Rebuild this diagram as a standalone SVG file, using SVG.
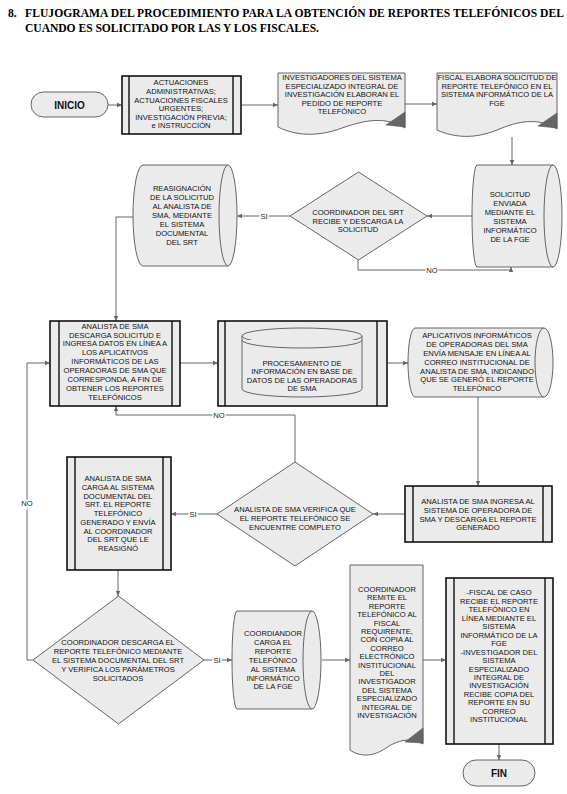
<svg xmlns="http://www.w3.org/2000/svg" width="567" height="794" viewBox="0 0 567 794">
<defs>
<style>
.t{font-family:"Liberation Sans",Arial,sans-serif;font-size:7.6px;fill:#111;text-anchor:middle}
.ttl{font-family:"Liberation Serif","Times New Roman",serif;font-size:11.6px;font-weight:bold;fill:#000}
.box{fill:#ebebeb;stroke:#111;stroke-width:1.6}
.inner{stroke:#111;stroke-width:1.4;fill:none}
.shp{fill:#ebebeb;stroke:#555;stroke-width:0.9}
.ln{fill:none;stroke:#666;stroke-width:1}
.lbl{font-family:"Liberation Sans",Arial,sans-serif;font-size:7.6px;fill:#222;text-anchor:middle;stroke:#fff;stroke-width:3;paint-order:stroke}
.tri{fill:#666;stroke:#555;stroke-width:0.6}
.term{font-family:"Liberation Sans",Arial,sans-serif;font-size:10px;font-weight:bold;fill:#111;text-anchor:middle}
</style>
<marker id="ah" markerWidth="6" markerHeight="6" refX="5" refY="3" orient="auto" markerUnits="userSpaceOnUse">
<path d="M0,0.8 L5,3 L0,5.2 Z" fill="#666"/>
</marker>
</defs>
<rect width="567" height="794" fill="#fff"/>
<g id="title">
<text class="ttl" x="8" y="16.7">8.</text>
<text class="ttl" x="25" y="16.7" textLength="539" lengthAdjust="spacing">FLUJOGRAMA DEL PROCEDIMIENTO PARA LA OBTENCIÓN DE REPORTES TELEFÓNICOS DEL</text>
<text class="ttl" x="25" y="31.5" textLength="294" lengthAdjust="spacing">CUANDO ES SOLICITADO POR LAS Y LOS FISCALES.</text>
</g>

<g id="connectors">
<path class="ln" marker-end="url(#ah)" d="M108,105 H122"/>
<path class="ln" marker-end="url(#ah)" d="M241,105 H278"/>
<path class="ln" marker-end="url(#ah)" d="M405,104 H437"/>
<path class="ln" marker-end="url(#ah)" d="M512,137 V165"/>
<path class="ln" marker-end="url(#ah)" d="M472,216 H427"/>
<path class="ln" marker-end="url(#ah)" d="M290,216 H237"/>
<path class="ln" marker-end="url(#ah)" d="M358,260 V270 H511 V267"/>
<path class="ln" marker-end="url(#ah)" d="M133,217 H116 V321"/>
<path class="ln" marker-end="url(#ah)" d="M180,363 H218"/>
<path class="ln" marker-end="url(#ah)" d="M387,363 H408"/>
<path class="ln" marker-end="url(#ah)" d="M478,397 V486"/>
<path class="ln" marker-end="url(#ah)" d="M405,514 H373"/>
<path class="ln" marker-end="url(#ah)" d="M217,514 H171"/>
<path class="ln" marker-end="url(#ah)" d="M295,462 V415 H116 V406"/>
<path class="ln" marker-end="url(#ah)" d="M118,570 V596"/>
<path class="ln" marker-end="url(#ah)" d="M33,660 H27 V363 H50"/>
<path class="ln" marker-end="url(#ah)" d="M204,660 H232"/>
<path class="ln" marker-end="url(#ah)" d="M322,660 H350"/>
<path class="ln" marker-end="url(#ah)" d="M423,660 H446"/>
<path class="ln" marker-end="url(#ah)" d="M499,744 V760"/>
<text class="lbl" x="264" y="218.7">SI</text>
<text class="lbl" x="432" y="272.7">NO</text>
<text class="lbl" x="219" y="417.7">NO</text>
<text class="lbl" x="193" y="516.7">SI</text>
<text class="lbl" x="27" y="505.7">NO</text>
<text class="lbl" x="217" y="662.7">SI</text>
</g>

<g id="inicio">
<rect x="31" y="92" width="77" height="25" rx="12.5" class="shp"/>
<text class="term" x="69.5" y="108.5">INICIO</text>
</g>

<g id="actuaciones">
<rect x="122" y="76" width="119" height="58" class="box"/>
<path class="inner" d="M129,76 V134 M233,76 V134"/>
<text class="t"><tspan x="181" y="85.4">ACTUACIONES</tspan><tspan x="181" y="94">ADMINISTRATIVAS;</tspan><tspan x="181" y="102.6">ACTUACIONES FISCALES</tspan><tspan x="181" y="111.2">URGENTES;</tspan><tspan x="181" y="119.8">INVESTIGACIÓN PREVIA;</tspan><tspan x="181" y="128.4">e INSTRUCCIÓN</tspan></text>
</g>

<g id="investigadores">
<path class="shp" d="M278,73 H405 V128 C385,116 365,120 342,128 C318,137 296,136 278,127 Z"/>
<path class="tri" d="M405,112 L405,127 L386,125 Z"/>
<text class="t"><tspan x="342" y="80">INVESTIGADORES DEL SISTEMA</tspan><tspan x="342" y="88.5">ESPECIALIZADO INTEGRAL DE</tspan><tspan x="342" y="97">INVESTIGACIÓN ELABORAN EL</tspan><tspan x="342" y="105.5">PEDIDO DE REPORTE</tspan><tspan x="342" y="114">TELEFÓNICO</tspan></text>
</g>

<g id="fiscal-elabora">
<path class="shp" d="M437,73 H557 V129 C538,117 518,121 497,130 C475,139 455,138 437,130 Z"/>
<path class="tri" d="M557,113 L557,128 L538,126 Z"/>
<text class="t"><tspan x="497" y="80">FISCAL ELABORA SOLICITUD DE</tspan><tspan x="497" y="88.5">REPORTE TELEFÓNICO EN EL</tspan><tspan x="497" y="97">SISTEMA INFORMÁTICO DE LA</tspan><tspan x="497" y="105.5">FGE</tspan></text>
</g>

<g id="solicitud-enviada">
<path class="shp" d="M477,165 H553 A9,51 0 0 1 553,267 H477 A5,51 0 0 1 477,165 Z"/>
<path class="shp" fill="none" d="M553,165 A9,51 0 0 0 553,267"/>
<text class="t"><tspan x="510" y="197">SOLICITUD</tspan><tspan x="510" y="205.9">ENVIADA</tspan><tspan x="510" y="214.8">MEDIANTE EL</tspan><tspan x="510" y="223.7">SISTEMA</tspan><tspan x="510" y="232.6">INFORMÁTICO</tspan><tspan x="510" y="241.5">DE LA FGE</tspan></text>
</g>

<g id="coordinador-recibe">
<path class="shp" d="M358.5,172 L427,216 L358.5,260 L290,216 Z"/>
<text class="t"><tspan x="358" y="215">COORDINADOR DEL SRT</tspan><tspan x="358" y="223.7">RECIBE Y DESCARGA LA</tspan><tspan x="358" y="232.4">SOLICITUD</tspan></text>
</g>

<g id="reasignacion">
<path class="shp" d="M143,165 H228 A9,50.5 0 0 1 228,266 H143 A10,50.5 0 0 1 143,165 Z"/>
<path class="shp" fill="none" d="M228,165 A9,50.5 0 0 0 228,266"/>
<text class="t"><tspan x="182" y="191">REASIGNACIÓN</tspan><tspan x="182" y="200">DE LA SOLICITUD</tspan><tspan x="182" y="209">AL ANALISTA DE</tspan><tspan x="182" y="218">SMA, MEDIANTE</tspan><tspan x="182" y="227">EL SISTEMA</tspan><tspan x="182" y="236">DOCUMENTAL</tspan><tspan x="182" y="245">DEL SRT</tspan></text>
</g>

<g id="analista-descarga">
<rect x="50" y="321" width="130" height="85" class="box"/>
<path class="inner" d="M59,321 V406 M172,321 V406"/>
<text class="t"><tspan x="115" y="328.7">ANALISTA DE SMA</tspan><tspan x="115" y="337.5">DESCARGA  SOLICITUD E</tspan><tspan x="115" y="346.4">INGRESA DATOS EN LÍNEA A</tspan><tspan x="115" y="355.2">LOS APLICATIVOS</tspan><tspan x="115" y="364.1">INFORMÁTICOS DE LAS</tspan><tspan x="115" y="372.9">OPERADORAS DE SMA QUE</tspan><tspan x="115" y="381.8">CORRESPONDA, A FIN DE</tspan><tspan x="115" y="390.6">OBTENER LOS REPORTES</tspan><tspan x="115" y="399.5">TELEFÓNICOS</tspan></text>
</g>

<g id="procesamiento">
<rect x="218" y="321" width="169" height="85" class="box"/>
<path class="inner" d="M225,321 V406 M377,321 V406"/>
<path class="shp" d="M242,336 A60,8 0 0 1 362,336 V389 A60,8 0 0 1 242,389 Z"/>
<path class="shp" fill="none" d="M242,336 A60,8 0 0 0 362,336"/>
<path class="shp" fill="none" d="M242,340 A60,8 0 0 0 362,340"/>
<text class="t"><tspan x="302" y="366">PROCESAMIENTO DE</tspan><tspan x="302" y="374.4">INFORMACIÓN EN BASE DE</tspan><tspan x="302" y="382.8">DATOS DE LAS OPERADORAS</tspan><tspan x="302" y="391.2">DE SMA</tspan></text>
</g>

<g id="aplicativos">
<path class="shp" d="M415,328 H544 A9,34.5 0 0 1 544,397 H415 A7,34.5 0 0 1 415,328 Z"/>
<path class="shp" fill="none" d="M544,328 A9,34.5 0 0 0 544,397"/>
<text class="t"><tspan x="477" y="338.4">APLICATIVOS INFORMÁTICOS</tspan><tspan x="477" y="347.2">DE OPERADORAS DEL SMA</tspan><tspan x="477" y="356">ENVÍA MENSAJE EN LÍNEA AL</tspan><tspan x="477" y="364.8">CORREO INSTITUCIONAL DE</tspan><tspan x="477" y="373.6">ANALISTA DE SMA, INDICANDO</tspan><tspan x="477" y="382.4">QUE SE GENERÓ EL REPORTE</tspan><tspan x="477" y="391.2">TELEFÓNICO</tspan></text>
</g>

<g id="analista-ingresa">
<rect x="405" y="486" width="147" height="56" class="box"/>
<path class="inner" d="M413,486 V542 M543,486 V542"/>
<text class="t"><tspan x="478" y="504.4">ANALISTA DE SMA INGRESA AL</tspan><tspan x="478" y="513">SISTEMA DE OPERADORA DE</tspan><tspan x="478" y="521.5">SMA Y DESCARGA EL REPORTE</tspan><tspan x="478" y="530">GENERADO</tspan></text>
</g>

<g id="analista-verifica">
<path class="shp" d="M295,462 L373,514 L295,566 L217,514 Z"/>
<text class="t"><tspan x="295" y="512.3">ANALISTA DE SMA VERIFICA QUE</tspan><tspan x="295" y="521">EL REPORTE TELEFÓNICO SE</tspan><tspan x="295" y="529.7">ENCUENTRE COMPLETO</tspan></text>
</g>

<g id="analista-carga">
<rect x="67" y="457" width="104" height="113" class="box"/>
<path class="inner" d="M75,457 V570 M163,457 V570"/>
<text class="t"><tspan x="118" y="481">ANALISTA DE SMA</tspan><tspan x="118" y="489.7">CARGA AL SISTEMA</tspan><tspan x="118" y="498.5">DOCUMENTAL DEL</tspan><tspan x="118" y="507.2">SRT. EL REPORTE</tspan><tspan x="118" y="516">TELEFÓNICO</tspan><tspan x="118" y="524.7">GENERADO Y ENVÍA</tspan><tspan x="118" y="533.5">AL COORDINADOR</tspan><tspan x="118" y="542.2">DEL SRT QUE LE</tspan><tspan x="118" y="551">REASIGNÓ</tspan></text>
</g>

<g id="coordinador-descarga">
<path class="shp" d="M118.5,596 L204,660 L118.5,724 L33,660 Z"/>
<text class="t"><tspan x="118" y="645.4">COORDINADOR DESCARGA EL</tspan><tspan x="118" y="654.3">REPORTE TELEFÓNICO MEDIANTE</tspan><tspan x="118" y="663.2">EL SISTEMA DOCUMENTAL DEL SRT</tspan><tspan x="118" y="672.1">Y VERIFICA LOS PARÁMETROS</tspan><tspan x="118" y="681">SOLICITADOS</tspan></text>
</g>

<g id="coordiandor-carga">
<path class="shp" d="M237,611 H312 A9,49 0 0 1 312,709 H237 A5,49 0 0 1 237,611 Z"/>
<path class="shp" fill="none" d="M312,611 A9,49 0 0 0 312,709"/>
<text class="t"><tspan x="273" y="636">COORDIANDOR</tspan><tspan x="273" y="644.9">CARGA EL</tspan><tspan x="273" y="653.8">REPORTE</tspan><tspan x="273" y="662.7">TELEFÓNICO</tspan><tspan x="273" y="671.6">AL SISTEMA</tspan><tspan x="273" y="680.5">INFORMÁTICO</tspan><tspan x="273" y="689.4">DE LA FGE</tspan></text>
</g>

<g id="coordinador-remite">
<path class="shp" d="M350,565 H423 V744 C410,737 398,740 386,748 C373,757 360,757 350,750 Z"/>
<path class="tri" d="M423,728 L423,743 L405,742 Z"/>
<text class="t"><tspan x="387" y="592">COORDINADOR</tspan><tspan x="387" y="600.4">REMITE EL</tspan><tspan x="387" y="608.8">REPORTE</tspan><tspan x="387" y="617.2">TELEFÓNICO AL</tspan><tspan x="387" y="625.6">FISCAL</tspan><tspan x="387" y="634">REQUIRENTE,</tspan><tspan x="387" y="642.4">CON COPIA AL</tspan><tspan x="387" y="650.8">CORREO</tspan><tspan x="387" y="659.2">ELECTRÓNICO</tspan><tspan x="387" y="667.6">INSTITUCIONAL</tspan><tspan x="387" y="676">DEL</tspan><tspan x="387" y="684.4">INVESTIGADOR</tspan><tspan x="387" y="692.8">DEL SISTEMA</tspan><tspan x="387" y="701.2">ESPECIALIZADO</tspan><tspan x="387" y="709.6">INTEGRAL DE</tspan><tspan x="387" y="718">INVESTIGACIÓN</tspan></text>
</g>

<g id="fiscal-recibe">
<rect x="446" y="578" width="107" height="166" class="box"/>
<path class="inner" d="M454,578 V744 M545,578 V744"/>
<text class="t"><tspan x="499" y="595.4">-FISCAL DE CASO</tspan><tspan x="499" y="603.9">RECIBE EL REPORTE</tspan><tspan x="499" y="612.3">TELEFÓNICO EN</tspan><tspan x="499" y="620.8">LÍNEA MEDIANTE EL</tspan><tspan x="499" y="629.2">SISTEMA</tspan><tspan x="499" y="637.7">INFORMÁTICO DE LA</tspan><tspan x="499" y="646.1">FGE</tspan><tspan x="499" y="654.6">-INVESTIGADOR DEL</tspan><tspan x="499" y="663">SISTEMA</tspan><tspan x="499" y="671.5">ESPECIALIZADO</tspan><tspan x="499" y="679.9">INTEGRAL DE</tspan><tspan x="499" y="688.4">INVESTIGACIÓN</tspan><tspan x="499" y="696.8">RECIBE COPIA DEL</tspan><tspan x="499" y="705.3">REPORTE EN SU</tspan><tspan x="499" y="713.7">CORREO</tspan><tspan x="499" y="722.2">INSTITUCIONAL</tspan></text>
</g>

<g id="fin">
<rect x="463" y="760" width="72" height="26" rx="13" class="shp"/>
<text class="term" x="499" y="776.5">FIN</text>
</g>
</svg>
